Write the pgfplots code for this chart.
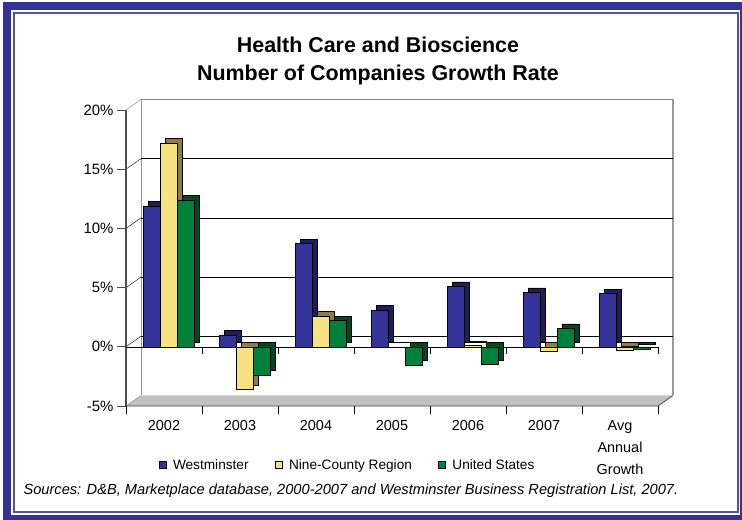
\documentclass[border=0pt]{standalone}
\usepackage{pgfplots}
\pgfplotsset{compat=1.18}
\usepackage{pgfplotstable}
\usepackage{fontspec}
\setmainfont{Liberation Sans}
\definecolor{frameblue}{RGB}{51,51,153}
\definecolor{wblue}{RGB}{51,51,153}
\definecolor{wside}{RGB}{30,30,90}
\definecolor{nyel}{RGB}{248,225,130}
\definecolor{nside}{RGB}{140,125,70}
\definecolor{ugreen}{RGB}{0,128,58}
\definecolor{uside}{RGB}{0,72,30}
\definecolor{floorgray}{RGB}{192,192,192}

\pgfplotstableread{
x W N U
0 11.9 17.2 12.4
1 1.0 -3.6 -2.4
2 8.7 2.6 2.2
3 3.1 0.0 -1.55
4 5.1 0.1 -1.5
5 4.6 -0.4 1.55
6 4.5 -0.3 -0.2
}\growth

\begin{document}
\begin{tikzpicture}
\useasboundingbox (0,0) rectangle (742bp,520bp);
\fill[white] (0,0) rectangle (742bp,520bp);
\draw[line width=8bp, frameblue] (7bp,1bp) rectangle (744bp,514bp);
\draw[line width=2bp, frameblue!85!white] (14bp,8bp) rectangle (738bp,507bp);

\node[align=center, font={\fontsize{21.5}{28}\selectfont\bfseries}] at (378bp,459bp)
  {Health Care and Bioscience\\Number of Companies Growth Rate};

\node[anchor=west, font={\fontsize{14.7}{17}\selectfont\itshape}] at (20bp,29bp)
  {Sources: D\&B, Marketplace database, 2000-2007 and Westminster Business Registration List, 2007.};

\begin{axis}[
  at={(126bp,114bp)}, anchor=south west,
  width=532bp, height=296bp, scale only axis,
  xmin=-0.5, xmax=6.5, ymin=-5, ymax=20,
  clip=false,
  axis line style={draw=none},
  xtick={0,1,2,3,4,5,6},
  xticklabels={2002,2003,2004,2005,2006,2007,{Avg\\Annual\\Growth}},
  xticklabel style={align=center, font={\fontsize{14.5}{22}\selectfont}, yshift=-2bp},
  xtick style={draw=none},
  ytick={-5,0,5,10,15,20},
  yticklabel={\pgfmathprintnumber{\tick}\%},
  yticklabel style={font={\fontsize{15}{18}\selectfont}},
  /pgf/number format/assume math mode=true,
  ytick style={draw=black!70, line width=0.8pt},
  tick align=outside, major tick length=9bp,
  tick pos=left,
  legend style={at={(axis cs:2.414,-9.98)}, anchor=center, draw=none, fill=none,
    legend columns=3, font={\fontsize{13.7}{16}\selectfont},
    /tikz/every odd column/.append style={column sep=5bp},
    /tikz/every even column/.append style={column sep=24bp},
    cells={anchor=west}},
]
% floor
\fill[floorgray] (axis cs:-0.5,-5) -- (axis cs:6.5,-5) -- (axis cs:6.697,-4.113) -- (axis cs:-0.303,-4.113) -- cycle;
\draw[black!70, line width=0.8pt] (axis cs:-0.5,-5) -- (axis cs:6.5,-5) -- (axis cs:6.697,-4.113);
% walls
\draw[black!40, line width=0.8pt] (axis cs:-0.303,-4.113) -- (axis cs:-0.303,20.887);
\draw[black!40, line width=1.2pt] (axis cs:6.697,-4.113) -- (axis cs:6.697,20.887);
% back gridlines
\draw[black!50] (axis cs:-0.303,20.887) -- (axis cs:6.697,20.887);
\draw[black] (axis cs:-0.303,15.887) -- (axis cs:6.697,15.887);
\draw[black] (axis cs:-0.303,10.887) -- (axis cs:6.697,10.887);
\draw[black] (axis cs:-0.303,5.887) -- (axis cs:6.697,5.887);
\draw[black] (axis cs:-0.303,0.887) -- (axis cs:6.697,0.887);
% left wall diagonals
\draw[black!50] (axis cs:-0.5,20) -- (axis cs:-0.303,20.887);
\draw[black] (axis cs:-0.5,15) -- (axis cs:-0.303,15.887);
\draw[black] (axis cs:-0.5,10) -- (axis cs:-0.303,10.887);
\draw[black] (axis cs:-0.5,5) -- (axis cs:-0.303,5.887);
\draw[black] (axis cs:-0.5,0) -- (axis cs:-0.303,0.887);
\draw[black!50] (axis cs:-0.5,-5) -- (axis cs:-0.303,-4.113);
% front left axis line
\draw[black!70, line width=1.5pt] (axis cs:-0.5,-5) -- (axis cs:-0.5,20);
% front zero line with ticks
\draw[black] (axis cs:-0.5,0) -- (axis cs:6.5,0);
\draw[black] (axis cs:0.5,0) -- (axis cs:0.5,-0.59);
\draw[black] (axis cs:1.5,0) -- (axis cs:1.5,-0.59);
\draw[black] (axis cs:2.5,0) -- (axis cs:2.5,-0.59);
\draw[black] (axis cs:3.5,0) -- (axis cs:3.5,-0.59);
\draw[black] (axis cs:4.5,0) -- (axis cs:4.5,-0.59);
\draw[black] (axis cs:5.5,0) -- (axis cs:5.5,-0.59);
\draw[black] (axis cs:6.5,0) -- (axis cs:6.5,-0.59);
% bottom category ticks
\draw[black] (axis cs:-0.5,-5) -- (axis cs:-0.5,-5.68);
\draw[black] (axis cs:0.5,-5) -- (axis cs:0.5,-5.68);
\draw[black] (axis cs:1.5,-5) -- (axis cs:1.5,-5.68);
\draw[black] (axis cs:2.5,-5) -- (axis cs:2.5,-5.68);
\draw[black] (axis cs:3.5,-5) -- (axis cs:3.5,-5.68);
\draw[black] (axis cs:4.5,-5) -- (axis cs:4.5,-5.68);
\draw[black] (axis cs:5.5,-5) -- (axis cs:5.5,-5.68);
\draw[black] (axis cs:6.5,-5) -- (axis cs:6.5,-5.68);

% side/top faces (shifted copies)
\addplot[ybar, bar width=17bp, bar shift=-12bp, xshift=5bp, yshift=4.5bp, fill=wside, draw=black, line width=0.6pt, forget plot] table[x=x,y=W] {\growth};
\addplot[ybar, bar width=17bp, bar shift=5bp, xshift=5bp, yshift=4.5bp, fill=nside, draw=black, line width=0.6pt, forget plot] table[x=x,y=N] {\growth};
\addplot[ybar, bar width=17bp, bar shift=22bp, xshift=5bp, yshift=4.5bp, fill=uside, draw=black, line width=0.6pt, forget plot] table[x=x,y=U] {\growth};
% front faces
\addplot[ybar, bar width=17bp, bar shift=-12bp, fill=wblue, draw=black, line width=0.6pt,
  legend image code/.code={\draw[fill=wblue,draw=black,line width=0.5pt] (0bp,-3.5bp) rectangle (7bp,3.5bp);}] table[x=x,y=W] {\growth};
\addlegendentry{Westminster}
\addplot[ybar, bar width=17bp, bar shift=5bp, fill=nyel, draw=black, line width=0.6pt,
  legend image code/.code={\draw[fill=nyel,draw=black,line width=0.5pt] (0bp,-3.5bp) rectangle (7bp,3.5bp);}] table[x=x,y=N] {\growth};
\addlegendentry{Nine-County Region}
\addplot[ybar, bar width=17bp, bar shift=22bp, fill=ugreen, draw=black, line width=0.6pt,
  legend image code/.code={\draw[fill=ugreen,draw=black,line width=0.5pt] (0bp,-3.5bp) rectangle (7bp,3.5bp);}] table[x=x,y=U] {\growth};
\addlegendentry{United States}
\end{axis}
\end{tikzpicture}
\end{document}
